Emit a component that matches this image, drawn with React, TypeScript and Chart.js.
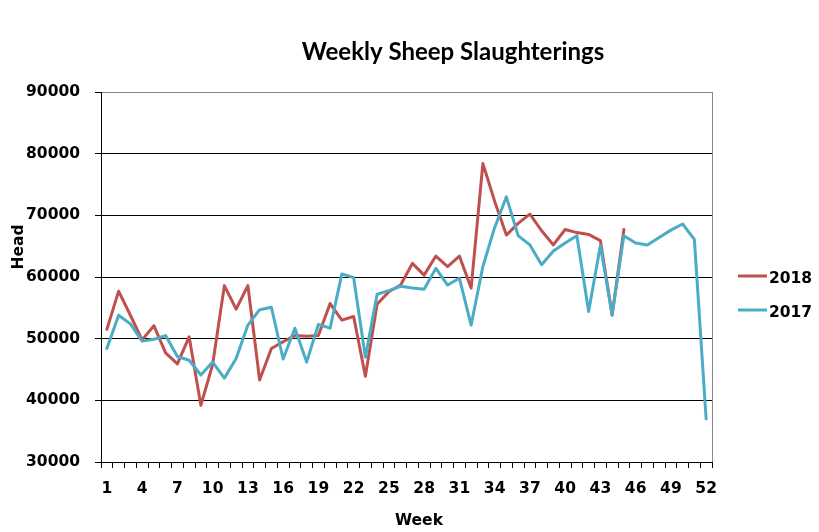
import React, { useEffect, useRef } from "react";
import { Chart, registerables } from "chart.js";

Chart.register(...registerables);

const weeks = [
  "1", "2", "3", "4", "5", "6", "7", "8", "9", "10",
  "11", "12", "13", "14", "15", "16", "17", "18", "19", "20",
  "21", "22", "23", "24", "25", "26", "27", "28", "29", "30",
  "31", "32", "33", "34", "35", "36", "37", "38", "39", "40",
  "41", "42", "43", "44", "45", "46", "47", "48", "49", "50",
  "51", "52",
];

const values2018 = [
  51500, 57700, 53800, 49800, 52100, 47700, 45900, 50300, 39200, 45800,
  58600, 54800, 58600, 43300, 48400, 49500, 50500, 50400, 50500, 55700,
  53000, 53600, 43900, 55600, 57600, 58700, 62200, 60300, 63400, 61700,
  63400, 58200, 78400, 72300, 66800, 68700, 70200, 67500, 65200, 67700,
  67200, 66900, 65900, 53800, 67700,
];

const values2017 = [
  48400, 53800, 52400, 49600, 49900, 50500, 47100, 46500, 44100, 46200,
  43600, 46800, 52200, 54700, 55100, 46700, 51700, 46200, 52300, 51700,
  60500, 59900, 47000, 57200, 57800, 58500, 58200, 58000, 61400, 58700,
  59800, 52200, 61700, 68000, 73000, 66700, 65200, 62000, 64200, 65500,
  66700, 54400, 65100, 53900, 66700, 65500, 65200, 66400, 67600, 68600,
  66100, 37000,
];

const yMin = 30000;
const yMax = 90000;
const yStep = 10000;

const TITLE = "Weekly Sheep Slaughterings";
const X_TITLE = "Week";
const Y_TITLE = "Head";
const LABEL_2018 = "2018";
const LABEL_2017 = "2017";
const COLOR_2018 = "#C0504D";
const COLOR_2017 = "#4BACC6";

const AXIS_FONT = '"DejaVu Sans"';
const AXIS_SIZE = 15.5;

const decorPlugin = {
  id: "decor",
  afterDraw(chart: any) {
    const { ctx, chartArea } = chart;
    ctx.save();
    // plot-area right border
    const rx = Math.round(chartArea.right) + 0.5;
    ctx.strokeStyle = "#868686";
    ctx.lineWidth = 1;
    ctx.beginPath();
    ctx.moveTo(rx, chartArea.top);
    ctx.lineTo(rx, chartArea.bottom);
    ctx.stroke();

    ctx.fillStyle = "#000";
    // title
    ctx.font = "bold 24px Lato";
    ctx.textAlign = "center";
    ctx.textBaseline = "alphabetic";
    ctx.fillText(TITLE, 453, 60);

    // x title
    ctx.font = `bold ${AXIS_SIZE}px ${AXIS_FONT}`;
    ctx.fillText(X_TITLE, 419, 525);

    // y title
    ctx.save();
    ctx.translate(23, 247);
    ctx.rotate(-Math.PI / 2);
    ctx.fillText(Y_TITLE, 0, 0);
    ctx.restore();

    // legend (order as in reference: 2018, 2017)
    const items = [0, 1].map((i) => chart.data.datasets[i]);
    const rows = [276, 310];
    items.forEach((ds: any, k: number) => {
      const y = rows[k];
      ctx.strokeStyle = ds.borderColor;
      ctx.lineWidth = 3;
      ctx.lineCap = "butt";
      ctx.beginPath();
      ctx.moveTo(738, y);
      ctx.lineTo(767, y);
      ctx.stroke();
      ctx.fillStyle = "#000";
      ctx.textAlign = "left";
      ctx.textBaseline = "alphabetic";
      ctx.fillText(ds.label, 769, y + 6.5);
    });
    ctx.restore();
  },
};

export default function App() {
  const canvasRef = useRef<HTMLCanvasElement | null>(null);

  useEffect(() => {
    if (!canvasRef.current) return;
    const chart = new Chart(canvasRef.current, {
      type: "line",
      data: {
        labels: weeks,
        datasets: [
          {
            label: LABEL_2018,
            data: values2018,
            borderColor: COLOR_2018,
            backgroundColor: COLOR_2018,
            borderWidth: 3,
            pointRadius: 0,
            tension: 0,
            borderJoinStyle: "round",
            borderCapStyle: "round",
            order: 2,
          },
          {
            label: LABEL_2017,
            data: values2017,
            borderColor: COLOR_2017,
            backgroundColor: COLOR_2017,
            borderWidth: 3,
            pointRadius: 0,
            tension: 0,
            borderJoinStyle: "round",
            borderCapStyle: "round",
            order: 1,
          },
        ],
      },
      options: {
        animation: false,
        responsive: true,
        maintainAspectRatio: false,
        layout: { padding: { left: 0, top: 92, right: 107, bottom: 0 } },
        plugins: {
          legend: { display: false },
          title: { display: false },
          tooltip: { enabled: false },
        },
        scales: {
          x: {
            type: "category",
            offset: true,
            afterFit: (scale: any) => {
              scale.height = 70;
            },
            grid: {
              offset: true,
              drawOnChartArea: false,
              drawTicks: true,
              tickLength: 6,
              color: "#000",
              tickColor: "#000",
            },
            border: { color: "#000", width: 1 },
            ticks: {
              autoSkip: false,
              maxRotation: 0,
              minRotation: 0,
              padding: 12,
              color: "#000",
              font: { family: AXIS_FONT, size: AXIS_SIZE, weight: "bold" },
              callback: (_v: any, i: number) => (i % 3 === 0 ? weeks[i] : ""),
            },
          },
          y: {
            min: yMin,
            max: yMax,
            afterFit: (scale: any) => {
              scale.width = 101;
            },
            grid: {
              color: (c: any) => (c.tick && c.tick.value === yMax ? "#868686" : "#000"),
              tickColor: "#000",
              tickLength: 6,
            },
            border: { color: "#000", width: 1 },
            ticks: {
              stepSize: yStep,
              padding: 15,
              color: "#000",
              font: { family: AXIS_FONT, size: AXIS_SIZE, weight: "bold" },
              callback: (v: any) => String(v),
            },
          },
        },
      },
      plugins: [decorPlugin],
    });
    return () => chart.destroy();
  }, []);

  return (
    <div style={{ position: "fixed", left: 0, top: 0, width: 819, height: 532, background: "#fff" }}>
      <canvas ref={canvasRef} />
    </div>
  );
}
